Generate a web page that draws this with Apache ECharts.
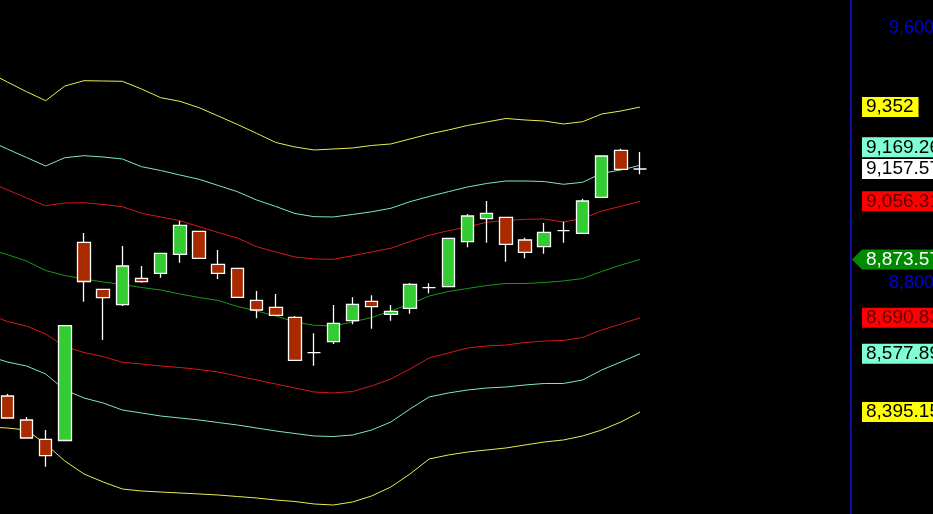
<!DOCTYPE html>
<html>
<head>
<meta charset="utf-8">
<script src="https://cdn.jsdelivr.net/npm/echarts@6/dist/echarts.min.js"></script>
<style>
html,body{margin:0;padding:0;background:#000;}
#c{width:933px;height:514px;}
</style>
</head>
<body>
<div id="c"></div>
<script>
// ---- data (index 0 lies just left of the visible area) ----
const categories = Array.from({length: 46}, (_, i) => 'D' + (i + 1));

const openP  = ['-', 8445.5, 8370.2, 8309.7, 8305.9, 8927.7, 8780.2, 8731.9, 8814.7, 8830.4, 8890.0, 8962.2, 8858.7, 8846.1, 8745.7, 8723.8, 8692.4, 8581.3, 8615.8, 8681.7, 8742.6, 8701.8, 8720.6, 8785.3, 8788.4, 8929.6, 9001.7, 9006.1, 8934.9, 8913.9, 8964.1, 8955.9, 9068.9, 9216.3, 9157.57];
const closeP = ['-', 8376.5, 8313.7, 8258.2, 8666.0, 8804.7, 8753.9, 8853.3, 8804.1, 8893.2, 8981.0, 8877.5, 8830.4, 8755.1, 8715.3, 8698.7, 8557.5, 8581.3, 8673.6, 8733.2, 8725.6, 8711.2, 8795.9, 8785.3, 8940.2, 9010.2, 9018.7, 8921.4, 8896.3, 8959.1, 8964.1, 9057.3, 9198.4, 9156.7, 9157.57];
const lowP   = ['-', 8376.5, 8313.7, 8223.7, 8305.9, 8741.3, 8621.2, 8727.8, 8800.9, 8816.6, 8863.7, 8877.5, 8812.5, 8755.1, 8689.3, 8696.5, 8557.5, 8540.5, 8608.6, 8670.4, 8656.6, 8681.7, 8703.7, 8767.7, 8788.4, 8912.0, 8926.4, 8866.8, 8877.5, 8891.9, 8926.4, 8955.9, 9068.9, 9156.7, 9141.0];
const highP  = ['-', 8451.8, 8379.6, 8338.8, 8666.0, 8956.9, 8780.2, 8916.1, 8853.3, 8893.2, 8994.5, 8962.2, 8903.5, 8846.1, 8774.9, 8765.5, 8696.5, 8642.2, 8731.0, 8755.1, 8761.4, 8731.0, 8800.0, 8799.0, 8940.2, 9016.5, 9057.3, 9006.1, 8942.1, 8988.2, 8992.3, 9064.5, 9198.4, 9221.3, 9211.0];

const upper3 = [9462, 9430.6, 9400.2, 9371.9, 9418, 9434.7, 9433.7, 9432.8, 9408.6, 9381.3, 9370, 9350, 9323.9, 9297.3, 9269.6, 9240.8, 9226.7, 9217.3, 9220.4, 9223.5, 9231.4, 9236.1, 9251.8, 9267.4, 9280, 9294.1, 9305.1, 9316.1, 9311.4, 9308.2, 9298.8, 9306, 9330.2, 9339.6, 9352];
const upper2 = [9247.7, 9220.4, 9193.7, 9167.1, 9193.1, 9199.4, 9195.3, 9189, 9164.9, 9152.9, 9138.8, 9125.3, 9105.9, 9086.4, 9060.4, 9040, 9018, 9008, 9007.1, 9014.9, 9023.4, 9034.4, 9055.1, 9071.4, 9086.4, 9101.2, 9112.2, 9120, 9120, 9118.4, 9109.7, 9115.9, 9144.2, 9154.5, 9169.26];
const upper1 = [9118.1, 9092.4, 9066.7, 9042.5, 9051, 9051.9, 9046.3, 9039.4, 9018.7, 9007.1, 8995.5, 8976.6, 8958.4, 8941.2, 8913.9, 8897.3, 8881.6, 8875.3, 8874.4, 8885.3, 8897.9, 8908.9, 8929.9, 8949.6, 8964.1, 8975.7, 8990.4, 8996.1, 8999.8, 9000.8, 8991.4, 9002.4, 9025.9, 9040.6, 9056.31];
const middle = [8906.7, 8889.1, 8869, 8839.2, 8823.5, 8812.5, 8803.1, 8795.3, 8785.9, 8778, 8765.5, 8754.5, 8745.1, 8726.3, 8712.2, 8696.5, 8677.6, 8667.3, 8665.1, 8677.6, 8691.8, 8712.2, 8734.1, 8759.2, 8773.3, 8782.7, 8792.2, 8798.4, 8798.4, 8801.6, 8806.3, 8814.1, 8836.1, 8856.5, 8873.57];
const lower1 = [8702.7, 8679.2, 8665.1, 8640, 8600.8, 8582, 8569.4, 8551.2, 8545.9, 8539.6, 8534.9, 8528.6, 8520.8, 8508.2, 8495.7, 8483.1, 8470.6, 8458.1, 8454.9, 8459.6, 8476.9, 8498.8, 8530.2, 8564.7, 8580.4, 8596.1, 8602.4, 8605.5, 8613.3, 8618, 8619.6, 8629, 8652.6, 8671.4, 8690.83];
const lower2 = [8571, 8552.2, 8539.6, 8514.5, 8464.3, 8439.2, 8423.5, 8401.6, 8392.2, 8382.7, 8376.5, 8370.2, 8362.3, 8354.5, 8345.1, 8335.7, 8327.8, 8320, 8318.4, 8323.1, 8338.8, 8363.9, 8404.7, 8442.4, 8454.9, 8464.3, 8470.6, 8473.7, 8480, 8484.7, 8484.7, 8495.7, 8527.1, 8552.2, 8577.89];
const lower3 = [8348.2, 8345.1, 8338.8, 8294.9, 8241.6, 8200.8, 8175.7, 8153.7, 8147.5, 8144.3, 8141.2, 8138.1, 8134.9, 8130.2, 8125.5, 8119.2, 8114.5, 8106.7, 8103.5, 8112.9, 8131.8, 8160, 8200.8, 8247.8, 8260.4, 8269.8, 8276.1, 8282.4, 8291.8, 8301.2, 8307.5, 8320, 8338.8, 8363.9, 8395.15];

const axisTicks = [8800, 9600];

// ---- styling ----
const Y_MIN = 8075.3, Y_MAX = 9687.8;
const FONT = "'Liberation Sans', Arial, sans-serif";
const GRID_RIGHT = 82;

const candles = openP.map((o, i) => o === '-' ? ['-', '-', '-', '-'] : [o, closeP[i], lowP[i], highP[i]]);

const bands = [
  {data: upper3, color: '#ecec50', bg: '#ffff00', fg: '#000'},
  {data: upper2, color: '#7fe6c8', bg: '#7fffd4', fg: '#000', lift: 36},
  {data: upper1, color: '#d81818', bg: '#ff0000', fg: '#5a0000'},
  {data: middle, color: '#1a961a', bg: '#008a00', fg: '#ffffff'},
  {data: lower1, color: '#d81818', bg: '#ff0000', fg: '#5a0000'},
  {data: lower2, color: '#7fe6c8', bg: '#7fffd4', fg: '#000'},
  {data: lower3, color: '#ecec50', bg: '#ffff00', fg: '#000'}
];

const fmt = v => v.toLocaleString('en-US', {maximumFractionDigits: 2});
const last = arr => arr[arr.length - 1];

const markers = bands.map(b => ({value: last(b.data), bg: b.bg, fg: b.fg, lift: b.lift || 0}));
markers.push({value: last(closeP), bg: '#ffffff', fg: '#000', lift: 0});

const yAxes = [{
  type: 'value', position: 'right', min: Y_MIN, max: Y_MAX, scale: true,
  axisLine: {show: true, lineStyle: {color: '#1414d2', width: 1.6}},
  axisTick: {show: false}, splitLine: {show: false},
  axisLabel: {customValues: axisTicks, color: '#0000dd', fontSize: 18, fontFamily: FONT,
    margin: 38, align: 'left', formatter: v => fmt(v)}
}];
markers.forEach(m => {
  yAxes.push({
    type: 'value', position: 'right', min: Y_MIN, max: Y_MAX, scale: true,
    axisLine: {show: false}, axisTick: {show: false}, splitLine: {show: false},
    axisLabel: {
      customValues: [m.value], margin: 11, align: 'left',
      padding: [0, 0, m.lift, 0],
      formatter: () => '{m|' + fmt(m.value) + '}',
      rich: {m: {backgroundColor: m.bg, color: m.fg, fontSize: 19, fontFamily: FONT,
        lineHeight: 20, height: 20, padding: [0, 5, 0, 4]}}
    }
  });
});

const series = bands.map(b => ({
  type: 'line', data: b.data, yAxisIndex: 0, symbol: 'none', silent: true,
  lineStyle: {color: b.color, width: 1}, z: 2
}));
series.push({
  type: 'candlestick', data: candles, yAxisIndex: 0, barWidth: 13, z: 3, silent: true,
  itemStyle: {color: '#33cc33', color0: '#aa2a00', borderColor: '#ffffff', borderColor0: '#ffffff',
    borderColorDoji: '#ffffff', borderWidth: 1.3}
});

const chart = echarts.init(document.getElementById('c'));
chart.setOption({
  backgroundColor: '#000',
  animation: false,
  grid: {left: -11.85, right: GRID_RIGHT, top: 0, bottom: 0, containLabel: false, outerBoundsMode: 'none'},
  xAxis: {type: 'category', data: categories, boundaryGap: false, show: false},
  yAxis: yAxes,
  series: series
});

// green pointer on the middle-band label
const yMid = chart.convertToPixel({yAxisIndex: 0}, last(middle));
const xAx = 933 - GRID_RIGHT;
chart.setOption({
  graphic: [{
    type: 'polygon', z: 100,
    shape: {points: [[xAx + 1, yMid], [xAx + 11, yMid - 10], [xAx + 11, yMid + 10]]},
    style: {fill: '#008a00'}
  }]
});
</script>
</body>
</html>
